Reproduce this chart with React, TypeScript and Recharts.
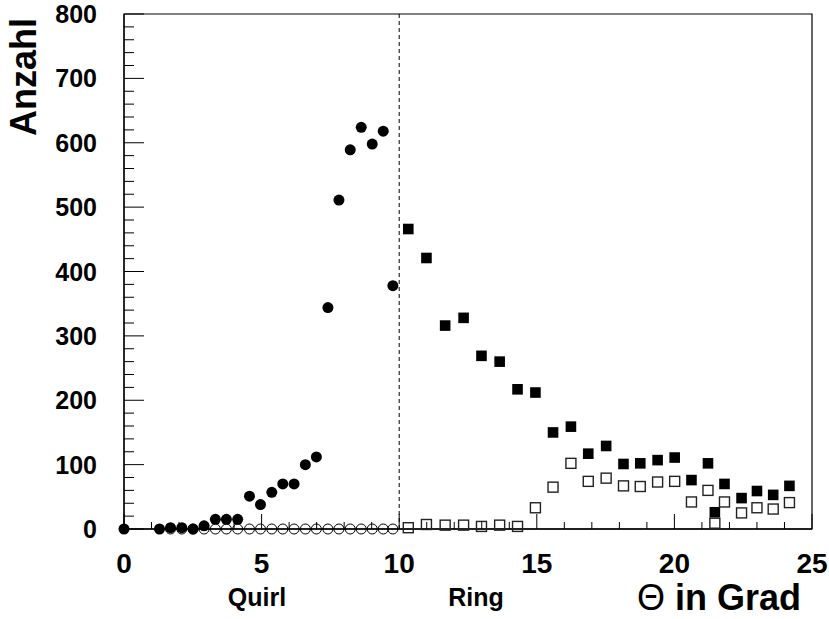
import React from "react";
import {
  ScatterChart,
  Scatter,
  XAxis,
  YAxis,
  ReferenceLine,
  ReferenceArea,
} from "recharts";

// Quirl region: filled = counts, open = background
const quirlTheta = [0, 1.29, 1.69, 2.1, 2.51, 2.91, 3.32, 3.72, 4.13, 4.56, 4.96, 5.37, 5.77, 6.18, 6.59, 6.99, 7.41, 7.81, 8.22, 8.62, 9.02, 9.42, 9.77];
const quirlCount = [0, 0, 2, 2, 0, 5, 15, 15, 15, 51, 38, 57, 70, 70, 100, 112, 344, 511, 589, 624, 598, 618, 378];
const quirlBgTheta = [1.69, 2.1, 2.51, 2.91, 3.32, 3.72, 4.13, 4.56, 4.96, 5.37, 5.77, 6.18, 6.59, 6.99, 7.41, 7.81, 8.22, 8.62, 9.02, 9.42, 9.77];
const quirlBgCount = [0, 0, 0, 0, 0, 0, 0, 0, 0, 0, 0, 0, 0, 0, 0, 0, 0, 0, 0, 0, 0];

// Ring region
const ringTheta = [10.33, 10.99, 11.67, 12.34, 12.99, 13.65, 14.3, 14.95, 15.59, 16.24, 16.87, 17.52, 18.15, 18.76, 19.39, 20.01, 20.62, 21.22, 21.47, 21.82, 22.44, 23.0, 23.59, 24.18];
const ringCount = [466, 421, 316, 328, 269, 260, 217, 212, 150, 159, 117, 129, 101, 102, 107, 111, 76, 102, 26, 70, 48, 59, 53, 67];
const ringBgCount = [2, 7, 6, 6, 4, 6, 4, 33, 65, 102, 74, 79, 67, 66, 73, 74, 42, 60, 9, 42, 25, 33, 31, 41];

const xTicks = [0, 1, 2, 3, 4, 5, 6, 7, 8, 9, 10, 11, 12, 13, 14, 15, 16, 17, 18, 19, 20, 21, 22, 23, 24, 25];
const yTicks = [0, 20, 40, 60, 80, 100, 120, 140, 160, 180, 200, 220, 240, 260, 280, 300, 320, 340, 360, 380, 400, 420, 440, 460, 480, 500, 520, 540, 560, 580, 600, 620, 640, 660, 680, 700, 720, 740, 760, 780, 800];

const toPoints = (xs: number[], ys: number[]) => xs.map((x, i) => ({ x, y: ys[i] }));

const FONT = "'Liberation Sans', Arial, Helvetica, sans-serif";

const FilledCircle = (p: any) => <circle cx={p.cx} cy={p.cy} r={5.5} fill="#000" />;
const OpenCircle = (p: any) => (
  <circle cx={p.cx} cy={p.cy} r={5} fill="none" stroke="#000" strokeWidth={1} />
);
const FilledSquare = (p: any) => (
  <rect x={p.cx - 5.3} y={p.cy - 5.3} width={10.6} height={10.6} fill="#000" />
);
const OpenSquare = (p: any) => (
  <rect x={p.cx - 5} y={p.cy - 5} width={10} height={10} fill="none" stroke="#222" strokeWidth={1.4} />
);

const XTick = (props: any) => {
  const { x, y, payload } = props;
  const major = payload.value % 5 === 0;
  return (
    <g>
      <line x1={x} x2={x} y1={y} y2={y - (major ? 15 : 7)} stroke="#000" strokeWidth={1} />
      {major && (
        <text x={x} y={y + 44} textAnchor="middle" fontFamily={FONT} fontWeight="bold" fontSize={28} fill="#000">
          {payload.value}
        </text>
      )}
    </g>
  );
};

const YTick = (props: any) => {
  const { x, y, payload } = props;
  const major = payload.value % 100 === 0;
  return (
    <g>
      <line x1={x} x2={x + (major ? 20 : 10)} y1={y} y2={y} stroke="#000" strokeWidth={1} />
      {major && (
        <text x={x - 27} y={y + 9} textAnchor="end" fontFamily={FONT} fontWeight="bold" fontSize={25} fill="#000">
          {payload.value}
        </text>
      )}
    </g>
  );
};

const BottomLabels = (props: any) => {
  const { viewBox } = props;
  const base = viewBox.y;
  return (
    <g fontFamily={FONT} fontWeight="bold" fill="#000">
      <text x={257} y={base + 77} textAnchor="middle" fontSize={25}>Quirl</text>
      <text x={476} y={base + 77} textAnchor="middle" fontSize={25}>Ring</text>
      <text x={637} y={base + 81} fontSize={36}>
        <tspan fontWeight="normal">Θ</tspan> in Grad
      </text>
    </g>
  );
};

const YTitle = () => (
  <text
    x={36}
    y={77}
    transform="rotate(-90, 36, 77)"
    textAnchor="middle"
    fontFamily={FONT}
    fontWeight="bold"
    fontSize={36}
    fill="#000"
  >
    Anzahl
  </text>
);

export default function App() {
  return (
    <div style={{ position: "absolute", left: 0, top: 0, width: 829, height: 619, background: "#fff" }}>
      <ScatterChart width={829} height={619} margin={{ top: 14, right: 17, bottom: 0, left: 0 }}>
        <XAxis
          type="number"
          dataKey="x"
          domain={[0, 25]}
          ticks={xTicks}
          interval={0}
          height={90}
          tickSize={0}
          tickMargin={0}
          tick={<XTick />}
          axisLine={{ stroke: "#000", strokeWidth: 1.6 }}
          tickLine={false}
          label={{ content: <BottomLabels /> }}
        />
        <YAxis
          type="number"
          dataKey="y"
          domain={[0, 800]}
          ticks={yTicks}
          interval={0}
          width={124}
          tickSize={0}
          tickMargin={0}
          tick={<YTick />}
          axisLine={{ stroke: "#000", strokeWidth: 1.2 }}
          tickLine={false}
          label={{ content: <YTitle /> }}
        />
        <ReferenceArea
          x1={0}
          x2={25}
          y1={0}
          y2={800}
          fill="none"
          fillOpacity={0}
          stroke="#000"
          strokeWidth={1.2}
          ifOverflow="visible"
        />
        <ReferenceLine x={10} stroke="#000" strokeWidth={1} strokeDasharray="4 3" />
        <Scatter data={toPoints(quirlBgTheta, quirlBgCount)} shape={<OpenCircle />} isAnimationActive={false} />
        <Scatter data={toPoints(quirlTheta, quirlCount)} shape={<FilledCircle />} isAnimationActive={false} />
        <Scatter data={toPoints(ringTheta, ringCount)} shape={<FilledSquare />} isAnimationActive={false} />
        <Scatter data={toPoints(ringTheta, ringBgCount)} shape={<OpenSquare />} isAnimationActive={false} />
      </ScatterChart>
    </div>
  );
}
